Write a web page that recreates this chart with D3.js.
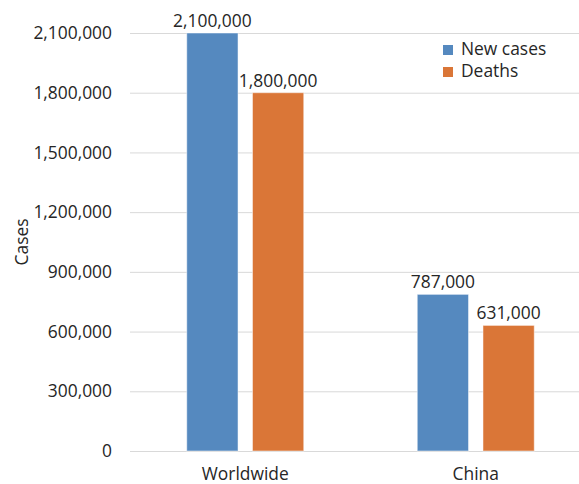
<!DOCTYPE html>
<html>
<head>
<meta charset="utf-8">
<script src="https://cdn.jsdelivr.net/npm/d3@7"></script>
<style>
  body { margin: 0; background: #fff; }
  text { font-family: "Open Sans", "Noto Sans", sans-serif; fill: #262626; }
</style>
</head>
<body>
<div id="chart"></div>
<script>
// chart data
var regions = ["Worldwide", "China"];
var seriesNames = ["New cases", "Deaths"];
var newCases = [2100000, 787000];
var deaths = [1800000, 631000];
var yTicks = [0, 300000, 600000, 900000, 1200000, 1500000, 1800000, 2100000];

var colors = ["#5589BF", "#DA7637"];

var width = 579, height = 484;
var plotLeft = 130, plotRight = 591, plotTop = 33, plotBottom = 451;
var fontSize = "17.4px";

var svg = d3.select("#chart").append("svg")
    .attr("width", width)
    .attr("height", height);

// build rows from the arrays
var rows = regions.map(function(r, i) {
  return { region: r, values: [newCases[i], deaths[i]] };
});

var x0 = d3.scaleBand()
    .domain(regions)
    .range([plotLeft, plotRight]);

var x1 = d3.scaleBand()
    .domain(seriesNames)
    .range([0, 117])
    .paddingInner(0.22);

var y = d3.scaleLinear()
    .domain([0, 2100000])
    .range([plotBottom, plotTop]);

var fmt = d3.format(",");

// gridlines + y tick labels
var yAxis = svg.append("g")
    .attr("transform", "translate(" + plotLeft + ",0)")
    .call(d3.axisLeft(y)
      .tickValues(yTicks)
      .tickFormat(fmt)
      .tickSize(-(plotRight - plotLeft))
      .tickPadding(18));
yAxis.select(".domain").remove();
yAxis.selectAll(".tick line").attr("stroke", "#d9d9d9");
yAxis.selectAll(".tick text")
    .style("font-size", fontSize)
    .attr("fill", "#262626");

// y axis title
svg.append("text")
    .attr("transform", "translate(28," + ((plotTop + plotBottom) / 2) + ") rotate(-90)")
    .attr("text-anchor", "middle")
    .style("font-size", fontSize)
    .text("Cases");

// bars
var groups = svg.selectAll(".grp")
    .data(rows)
    .enter().append("g")
    .attr("class", "grp")
    .attr("transform", function(d) {
      return "translate(" + (x0(d.region) + x0.bandwidth() / 2 - 58.5) + ",0)";
    });

groups.selectAll("rect")
    .data(function(d) { return d.values; })
    .enter().append("rect")
    .attr("x", function(d, i) { return x1(seriesNames[i]); })
    .attr("y", function(d) { return y(d); })
    .attr("width", x1.bandwidth())
    .attr("height", function(d) { return plotBottom - y(d); })
    .attr("fill", function(d, i) { return colors[i]; })
    .attr("stroke", "#ffffff")
    .attr("stroke-opacity", 0.5)
    .attr("stroke-width", 1);

groups.selectAll(".val")
    .data(function(d) { return d.values; })
    .enter().append("text")
    .attr("class", "val")
    .attr("x", function(d, i) { return x1(seriesNames[i]) + x1.bandwidth() / 2; })
    .attr("y", function(d) { return y(d) - 6; })
    .attr("text-anchor", "middle")
    .style("font-size", fontSize)
    .text(function(d) { return fmt(d); });

// category labels
svg.selectAll(".cat")
    .data(regions)
    .enter().append("text")
    .attr("class", "cat")
    .attr("x", function(d) { return x0(d) + x0.bandwidth() / 2; })
    .attr("y", 480)
    .attr("text-anchor", "middle")
    .style("font-size", fontSize)
    .text(function(d) { return d; });

// legend
var legend = svg.append("g")
    .attr("transform", "translate(443,45)");
seriesNames.forEach(function(name, i) {
  var row = legend.append("g").attr("transform", "translate(0," + (i * 22) + ")");
  row.append("rect")
      .attr("width", 10)
      .attr("height", 10)
      .attr("fill", colors[i]);
  row.append("text")
      .attr("x", 18)
      .attr("y", 10)
      .style("font-size", fontSize)
      .text(name);
});
</script>
</body>
</html>
